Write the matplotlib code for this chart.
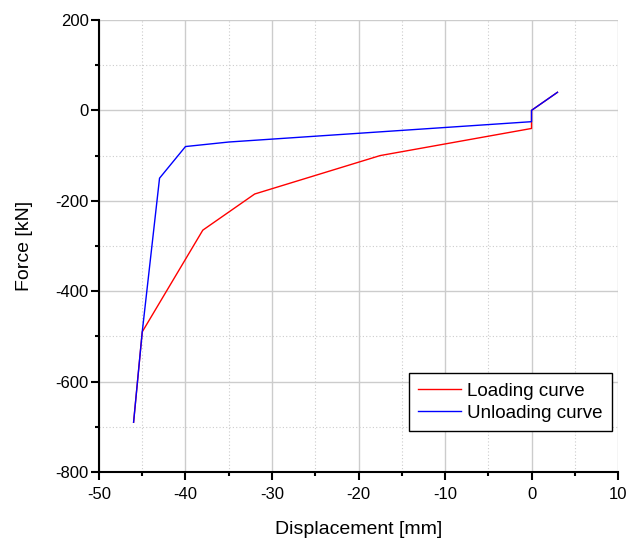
import matplotlib.pyplot as plt
from matplotlib.ticker import MultipleLocator

# displacement [mm] / force [kN]
load_x = [-46, -45, -38, -32, -17.5, 0, 0, 3]
load_y = [-690, -490, -265, -185, -100, -40, 0, 40]
unload_x = [-46, -45, -43, -40, -35, 0, 0, 3]
unload_y = [-690, -490, -150, -80, -70, -25, 0, 40]

plt.rcParams['font.family'] = ['Liberation Sans', 'DejaVu Sans']
plt.rcParams['axes.unicode_minus'] = False

fig = plt.figure(figsize=(6.37, 5.43), dpi=100)
ax = fig.add_axes([0.1554, 0.1308, 0.8148, 0.8324])

ax.plot(load_x, load_y, color='red', lw=1.0, label='Loading curve')
ax.plot(unload_x, unload_y, color='blue', lw=1.0, label='Unloading curve')

ax.set_xlim(-50, 10)
ax.set_ylim(-800, 200)
ax.xaxis.set_major_locator(MultipleLocator(10))
ax.xaxis.set_minor_locator(MultipleLocator(5))
ax.yaxis.set_major_locator(MultipleLocator(200))
ax.yaxis.set_minor_locator(MultipleLocator(100))

ax.grid(which='major', color='#cccccc', lw=1.0, ls='-')
ax.grid(which='minor', color='#cccccc', lw=0.8, ls=(0, (1, 2)))
ax.set_axisbelow(True)

for side in ('top', 'right'):
    ax.spines[side].set_visible(False)
for side in ('left', 'bottom'):
    ax.spines[side].set_linewidth(1.5)

ax.tick_params(which='major', direction='out', length=6, width=1.5, labelsize=12)
ax.tick_params(which='minor', direction='out', length=3.2, width=1.5)
ax.tick_params(axis='x', which='major', pad=4.7)
ax.tick_params(axis='y', which='major', pad=1.5)

ax.set_xlabel('Displacement [mm]', fontsize=14, labelpad=14)
ax.set_ylabel('Force [kN]', fontsize=14, labelpad=16)

leg = ax.legend(loc='lower right', bbox_to_anchor=(0.988, 0.0907), fontsize=13.5,
                fancybox=False, framealpha=1, edgecolor='black',
                handlelength=2.3, borderpad=0.5, labelspacing=0.25,
                handletextpad=0.3, borderaxespad=0)
leg.get_frame().set_linewidth(1.0)

fig.savefig('out.png', dpi=100)
